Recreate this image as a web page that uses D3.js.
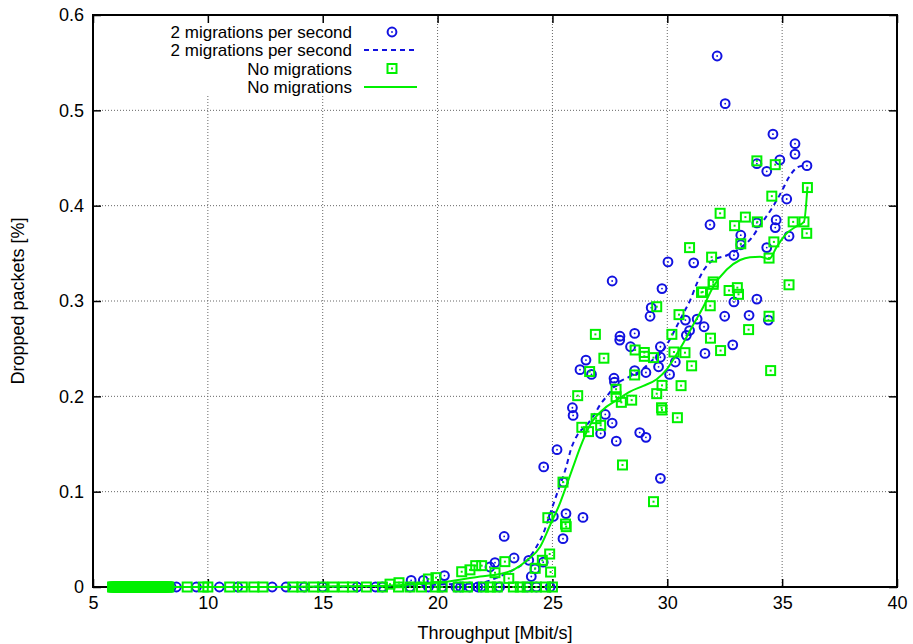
<!DOCTYPE html>
<html>
<head>
<meta charset="utf-8">
<script src="https://cdn.jsdelivr.net/npm/d3@7"></script>
<style>
  body { margin: 0; background: #fff; }
  text { font-family: "Liberation Sans", Arial, sans-serif; font-size: 18px; fill: #000; }
  .legend text { font-size: 17px; }
</style>
</head>
<body>
<script>
//tick values of both axes
var xTicks = [5, 10, 15, 20, 25, 30, 35, 40];
var yTicks = [0, 0.1, 0.2, 0.3, 0.4, 0.5, 0.6];

//legend labels
var seriesNames = ["2 migrations per second", "2 migrations per second", "No migrations", "No migrations"];

//2 migrations per second: measured points [throughput, dropped]
var migPoints = [
  [32.17,0.557],[32.52,0.507],[34.6,0.475],[35.56,0.465],[35.56,0.454],[34.9,0.448],[33.9,0.444],
  [34.33,0.436],[36.08,0.442],[35.2,0.407],[34.74,0.385],[34.7,0.377],[33.9,0.382],[31.86,0.38],
  [33.2,0.369],[33.2,0.359],[34.33,0.356],[35.3,0.368],[32.9,0.348],[32.9,0.299],[33.9,0.302],
  [32.5,0.284],[33.56,0.285],[34.4,0.28],[31.6,0.273],[32.85,0.254],[31.64,0.245],
  [30.03,0.341],[31.15,0.34],[27.6,0.321],[29.77,0.313],[29.3,0.293],[29.25,0.284],[30.79,0.28],
  [31.3,0.281],[30.97,0.269],[30.83,0.264],[27.94,0.263],[27.93,0.259],[28.58,0.266],[28.4,0.252],
  [29.7,0.252],[29.7,0.241],[29.62,0.231],[30.35,0.236],[30.1,0.223],[29.07,0.225],[28.58,0.227],
  [26.46,0.238],[26.2,0.228],[26.7,0.223],[27.68,0.219],[27.7,0.215],[25.87,0.188],[25.9,0.18],
  [27.6,0.172],[27.3,0.181],[27.1,0.161],[27.78,0.153],[28.8,0.162],[29.07,0.157],[25.2,0.144],
  [24.62,0.126],[25.48,0.11],[29.7,0.114],[25.59,0.077],[26.33,0.073],[25.04,0.074],[25.46,0.0507],
  [22.9,0.053],[23.33,0.0304],[23.97,0.028],[24.6,0.026],[24.24,0.019],[24.08,0.011],[22.5,0.0255],
  [22.28,0.021],[20.3,0.012],[19.38,0.007],[18.85,0.007],
  [6.1,0],[7.0,0],[8.4,0],[8.63,0],[9.5,0],[10.5,0],[11.3,0],[12.8,0],[13.4,0],[14.2,0],[15.0,0],
  [16.5,0],[17.3,0],[17.6,0],[18.8,0],[19.6,0],[20.2,0],[20.8,0],[21.0,0],[21.4,0],[21.75,0],
  [21.9,0],[22.7,0],[23.9,0],[24.3,0],[24.9,0]
];

//2 migrations per second: smoothed curve
var migCurve = [
  [6,0],[12,0],[17,0.0005],[19,0.0015],[20.5,0.003],[21.8,0.004],[22.7,0.011],[23.3,0.018],
  [23.9,0.028],[24.3,0.042],[24.6,0.056],[24.9,0.077],[25.2,0.098],[25.6,0.126],[25.8,0.144],
  [26.1,0.16],[26.5,0.17],[26.8,0.18],[27.1,0.192],[27.4,0.201],[27.8,0.213],[28.3,0.22],
  [28.9,0.228],[29.4,0.239],[29.7,0.245],[30.1,0.259],[30.4,0.273],[30.7,0.287],[31.0,0.301],
  [31.3,0.319],[31.6,0.333],[32.0,0.343],[32.6,0.348],[33.2,0.356],[33.7,0.367],[34.0,0.378],
  [34.6,0.399],[35.0,0.416],[35.3,0.43],[35.65,0.44],[35.9,0.442]
];

//no migrations: measured points
var noMigPoints = [
  [33.9,0.447],[34.7,0.443],[34.55,0.41],[36.1,0.419],[32.3,0.392],[33.4,0.388],[32.93,0.379],
  [33.92,0.383],[35.48,0.383],[35.95,0.383],[36.07,0.371],[34.64,0.362],[33.2,0.36],[34.43,0.345],
  [31.93,0.346],[32.0,0.32],[32.0,0.3175],[31.54,0.3095],[32.69,0.311],[33.05,0.314],[33.1,0.307],
  [35.3,0.317],[31.87,0.295],[34.43,0.284],[33.54,0.27],[31.88,0.261],[32.32,0.248],[34.5,0.227],
  [30.97,0.356],[31.49,0.309],[29.54,0.294],[30.51,0.2857],[26.87,0.265],[30.2,0.265],[27.24,0.24],
  [28.6,0.2486],[29.0,0.246],[29.0,0.242],[29.4,0.2406],[30.29,0.2465],[30.77,0.2458],[31.06,0.232],
  [26.62,0.226],[28.58,0.2224],[26.1,0.2007],[27.77,0.2074],[27.77,0.1996],[28.0,0.1937],[28.45,0.196],
  [29.77,0.2115],[30.6,0.2112],[29.54,0.2028],[29.75,0.188],[29.77,0.1857],[30.44,0.1776],[26.9,0.1766],
  [27.1,0.1696],[26.28,0.1675],[26.57,0.163],[28.05,0.128],[29.4,0.0895],[25.46,0.11],[24.8,0.0727],
  [25.6,0.0633],[25.57,0.066],[24.88,0.0346],[24.92,0.0157],[24.56,0.028],[24.25,0.0196],[22.93,0.0266],
  [22.5,0.015],[23.1,0.009],[21.92,0.0224],[21.66,0.0224],[21.41,0.018],[21.05,0.016],[19.93,0.0098],
  [19.6,0.0084],[18.32,0.0045],[17.93,0.003],
  [5.85,0],[5.9,0],[5.95,0],[6.0,0],[6.05,0],[6.1,0],[6.15,0],[6.2,0],[6.25,0],[6.3,0],[6.35,0],
  [6.4,0],[6.45,0],[6.5,0],[6.55,0],[6.6,0],[6.65,0],[6.7,0],[6.75,0],[6.8,0],[6.85,0],[6.9,0],
  [6.95,0],[7.0,0],[7.05,0],[7.1,0],[7.15,0],[7.2,0],[7.25,0],[7.3,0],[7.35,0],[7.4,0],[7.45,0],
  [7.5,0],[7.55,0],[7.6,0],[7.65,0],[7.7,0],[7.75,0],[7.8,0],[7.85,0],[7.9,0],[7.95,0],[8.0,0],
  [8.05,0],[8.1,0],[8.15,0],[8.2,0],[8.25,0],[8.3,0],
  [9.1,0],[9.8,0],[10.0,0],[10.95,0],[11.5,0],[12.0,0],[12.4,0],[13.7,0],[14.1,0],[14.6,0],[15.0,0],
  [15.45,0],[15.9,0],[16.3,0],[16.9,0],[17.6,0],[18.3,0],[18.8,0],[19.3,0],[19.9,0],[20.2,0],[20.9,0],
  [21.3,0],[22.0,0],[22.3,0],[22.6,0],[23.3,0],[23.6,0],[23.9,0],[24.3,0],[24.7,0],[25.0,0]
];

//no migrations: smoothed curve
var noMigCurve = [
  [6,0],[12,0],[17,0.001],[19,0.003],[20.4,0.0056],[21.85,0.011],[22.7,0.0136],[23.3,0.018],
  [23.9,0.028],[24.46,0.042],[24.9,0.065],[25.33,0.088],[25.62,0.107],[25.9,0.126],[26.2,0.146],
  [26.64,0.17],[27.2,0.186],[27.8,0.196],[28.38,0.205],[28.96,0.211],[29.54,0.218],[29.97,0.228],
  [30.3,0.24],[30.7,0.256],[31.13,0.275],[31.57,0.294],[32.0,0.315],[32.59,0.333],[33.17,0.343],
  [33.6,0.346],[34.04,0.3465],[34.43,0.344],[34.77,0.357],[35.2,0.371],[35.6,0.378],[35.95,0.383],
  [36.1,0.419]
];

window.onload = function(){
  var w = 913, h = 644;
  var left = 93, right = 897, top = 15, bottom = 587;
  var blue = "#1212e0", green = "#00f000";

  var svg = d3.select("body").append("svg")
      .attr("width", w)
      .attr("height", h);

  //scales
  var x = d3.scaleLinear().domain([5, 40]).range([left, right]);
  var y = d3.scaleLinear().domain([0, 0.6]).range([bottom, top]);

  //dotted grid
  var grid = svg.append("g").attr("class", "grid");
  grid.selectAll(".vgrid")
      .data(xTicks.slice(1, -1))
      .enter().append("line")
      .attr("x1", function(d){ return x(d); })
      .attr("x2", function(d){ return x(d); })
      .attr("y1", top).attr("y2", bottom);
  grid.selectAll(".hgrid")
      .data(yTicks.slice(1, -1))
      .enter().append("line")
      .attr("x1", left).attr("x2", right)
      .attr("y1", function(d){ return y(d); })
      .attr("y2", function(d){ return y(d); });
  grid.selectAll("line")
      .style("stroke", "#666")
      .style("stroke-width", 1)
      .style("stroke-dasharray", "1,2");

  //legend background hides the grid behind it
  svg.append("rect")
      .attr("x", left + 2).attr("y", top + 2)
      .attr("width", 332).attr("height", 79)
      .style("fill", "#fff");

  //axes with inward ticks, mirrored on top and right
  var ax = svg.append("g").attr("class", "axes");
  ax.append("g")
      .attr("transform", "translate(0," + bottom + ")")
      .call(d3.axisBottom(x).tickValues(xTicks).tickSizeInner(-8).tickSizeOuter(0).tickPadding(9));
  ax.append("g")
      .attr("transform", "translate(0," + top + ")")
      .call(d3.axisTop(x).tickValues(xTicks).tickSizeInner(-8).tickSizeOuter(0).tickFormat(""));
  ax.append("g")
      .attr("transform", "translate(" + left + ",0)")
      .call(d3.axisLeft(y).tickValues(yTicks).tickSizeInner(-8).tickSizeOuter(0).tickPadding(9)
          .tickFormat(function(d){ return d === 0 ? "0" : d3.format(".1f")(d); }));
  ax.append("g")
      .attr("transform", "translate(" + right + ",0)")
      .call(d3.axisRight(y).tickValues(yTicks).tickSizeInner(-8).tickSizeOuter(0).tickFormat(""));
  ax.selectAll(".domain").remove();
  ax.selectAll(".tick line").style("stroke", "#000").style("stroke-width", 1.5);
  ax.selectAll(".tick text")
      .style("font-family", "\"Liberation Sans\", Arial, sans-serif")
      .style("font-size", "18px")
      .style("fill", "#000");

  //plot border
  svg.append("rect")
      .attr("x", left).attr("y", top)
      .attr("width", right - left).attr("height", bottom - top)
      .style("fill", "none")
      .style("stroke", "#000")
      .style("stroke-width", 2);

  var line = d3.line()
      .x(function(d){ return x(d[0]); })
      .y(function(d){ return y(d[1]); })
      .curve(d3.curveMonotoneX);

  //marker helpers
  function circles(g, data){
    g.selectAll(".c").data(data).enter().append("circle")
        .attr("cx", function(d){ return x(d[0]); })
        .attr("cy", function(d){ return y(d[1]); })
        .attr("r", 4.4)
        .style("fill", "none").style("stroke", blue).style("stroke-width", 2);
    g.selectAll(".cd").data(data).enter().append("circle")
        .attr("cx", function(d){ return x(d[0]); })
        .attr("cy", function(d){ return y(d[1]); })
        .attr("r", 0.9)
        .style("fill", blue);
  }
  function squares(g, data){
    g.selectAll(".s").data(data).enter().append("rect")
        .attr("x", function(d){ return x(d[0]) - 4.5; })
        .attr("y", function(d){ return y(d[1]) - 4.5; })
        .attr("width", 9).attr("height", 9)
        .style("fill", "none").style("stroke", green).style("stroke-width", 2);
    g.selectAll(".sd").data(data).enter().append("rect")
        .attr("x", function(d){ return x(d[0]) - 1; })
        .attr("y", function(d){ return y(d[1]) - 1; })
        .attr("width", 2).attr("height", 2)
        .style("fill", green);
  }

  //series, drawn in gnuplot order
  circles(svg.append("g"), migPoints);
  svg.append("path")
      .datum(migCurve)
      .attr("d", line)
      .style("fill", "none").style("stroke", blue)
      .style("stroke-width", 2).style("stroke-dasharray", "5,4");
  squares(svg.append("g"), noMigPoints);
  svg.append("path")
      .datum(noMigCurve)
      .attr("d", line)
      .style("fill", "none").style("stroke", green)
      .style("stroke-width", 2);

  //legend
  var rows = [32, 50, 68.5, 87];
  var legend = svg.append("g").attr("class", "legend");
  legend.selectAll("text")
      .data(seriesNames)
      .enter().append("text")
      .attr("x", 352)
      .attr("y", function(d, i){ return rows[i] + 6; })
      .attr("text-anchor", "end")
      .text(function(d){ return d; });
  circles(legend.append("g"), [[x.invert(392), y.invert(rows[0])]]);
  legend.append("line")
      .attr("x1", 364).attr("x2", 417).attr("y1", rows[1]).attr("y2", rows[1])
      .style("stroke", blue).style("stroke-width", 2).style("stroke-dasharray", "5,4");
  squares(legend.append("g"), [[x.invert(392), y.invert(rows[2])]]);
  legend.append("line")
      .attr("x1", 364).attr("x2", 417).attr("y1", rows[3]).attr("y2", rows[3])
      .style("stroke", green).style("stroke-width", 2);

  //axis titles
  svg.append("text")
      .attr("x", (left + right) / 2)
      .attr("y", 639)
      .attr("text-anchor", "middle")
      .text("Throughput [Mbit/s]");
  svg.append("text")
      .attr("transform", "translate(24," + ((top + bottom) / 2) + ") rotate(-90)")
      .attr("text-anchor", "middle")
      .text("Dropped packets [%]");
};
</script>
</body>
</html>
